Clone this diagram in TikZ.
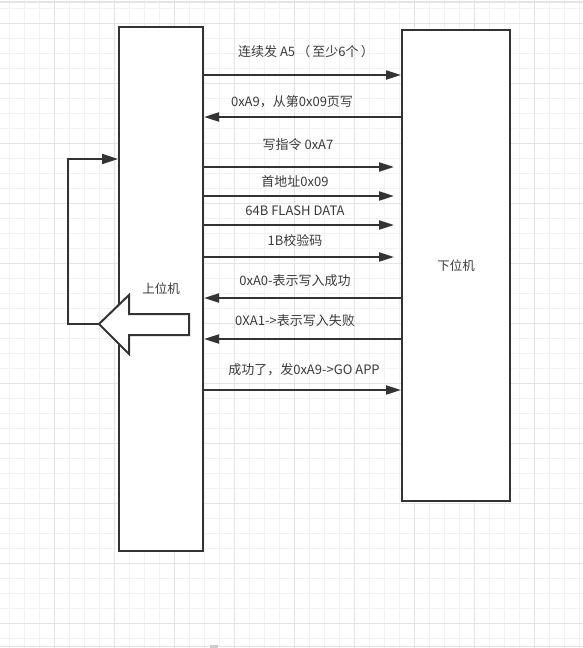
\documentclass[tikz,border=0pt]{standalone}
\usepackage{fontspec}
\setmainfont{Noto Sans CJK SC}
\usepackage{xcolor}
\usetikzlibrary{arrows.meta}
\definecolor{ink}{HTML}{333333}
\definecolor{txt}{HTML}{3A3A3A}
\definecolor{gridminor}{HTML}{F2F2F2}
\definecolor{gridmajor}{HTML}{E4E4E4}
\tikzset{
    box/.style={
        draw=ink,
        line width=2pt,
        fill=white,
        anchor=north west,
        font=\fontsize{12.5}{15}\selectfont,
        text=txt
    },
    msg/.style={
        draw=ink,
        line width=2pt,
        -{Triangle[length=15pt,width=9pt]}
    },
    lbl/.style={
        font=\fontsize{13}{15}\selectfont,
        text=txt,
        inner sep=0pt
    }
}
\begin{document}
\begin{tikzpicture}[x=1pt,y=-1pt]
    \useasboundingbox (0,0) rectangle (583,648);
    % grid
    \foreach \g in {9,24,...,583}
        \draw[gridminor,line width=1pt] (\g,0) -- (\g,648);
    \foreach \g in {8,23,...,648}
        \draw[gridminor,line width=1pt] (0,\g) -- (583,\g);
    \foreach \g in {54,114,...,583}
        \draw[gridmajor,line width=1pt] (\g,0) -- (\g,648);
    \foreach \g in {23,83,...,648}
        \draw[gridmajor,line width=1pt] (0,\g) -- (583,\g);
    \draw[gridmajor,line width=1.5pt] (0,2) -- (583,2);
    \draw[gridmajor,line width=1.5pt] (0,646.5) -- (583,646.5);
    \fill[black!20] (210,645) rectangle (218,648);

    % the two boxes
    \node[box,minimum width=84pt,minimum height=524pt] (host) at (118,26) {上位机};
    \node[box,minimum width=108pt,minimum height=471pt] (dev) at (401,29) {下位机};

    % messages
    \foreach \y in {75,390}
        \draw[msg] (host.east |- 0,\y) -- (dev.west |- 0,\y);
    \foreach \y in {117,298,339}
        \draw[msg] (dev.west |- 0,\y) -- (host.east |- 0,\y);
    \foreach \y in {167,196,225,257}
        \draw[msg,shorten >=7pt] (host.east |- 0,\y) -- (dev.west |- 0,\y);

    \node[lbl] (m1) at (306,52) {连续发 A5\,（\,至少6个\,）};
    \node[lbl] (m2) at (292,102) {0xA9，从第0x09页写};
    \node[lbl] (m3) at (298,145) {写指令 0xA7};
    \node[lbl] (m4) at (295,182) {首地址0x09};
    \node[lbl] (m5) at (295,211) {64B FLASH DATA};
    \node[lbl] (m6) at (295,241) {1B校验码};
    \node[lbl] (m7) at (295,281) {0xA0-表示写入成功};
    \node[lbl] (m8) at (295,321) {0XA1->表示写入失败};
    \node[lbl] (m9) at (304,370) {成功了，发0xA9->GO APP};

    % retry loop
    \coordinate (tip) at (99,324);
    \draw[msg,-{Triangle[length=16pt,width=10pt]}]
        (tip) -- ++(-31,0) |- (host.west |- 0,159);
    \draw[draw=ink,line width=2pt,fill=white,line join=miter]
        (tip) -- (129,295) -- (129,314) -- (189,314)
        -- (189,335) -- (129,335) -- (129,354) -- cycle;
\end{tikzpicture}
\end{document}
